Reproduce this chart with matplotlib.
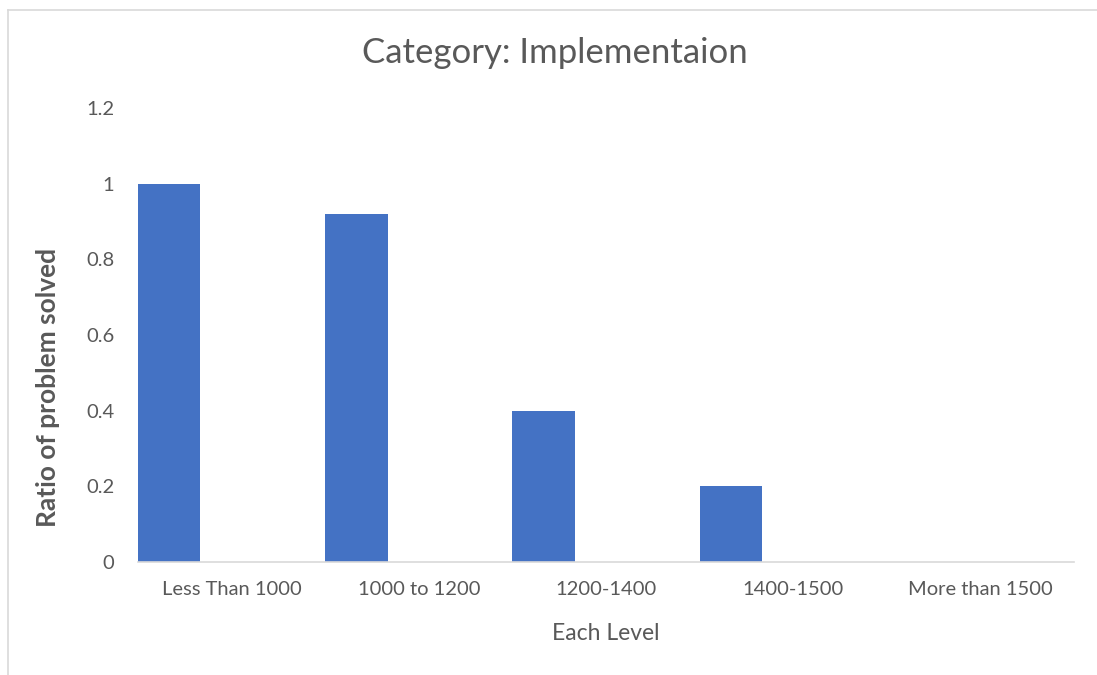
import matplotlib.pyplot as plt
from matplotlib.lines import Line2D

levels = ['Less Than 1000', '1000 to 1200', '1200-1400', '1400-1500', 'More than 1500']
ratio_solved = [1.0, 0.92, 0.4, 0.2, 0.0]
y_ticks = [0, 0.2, 0.4, 0.6, 0.8, 1, 1.2]
y_tick_labels = ['0', '0.2', '0.4', '0.6', '0.8', '1', '1.2']

text_color = '#595959'
bar_color = '#4472c4'

plt.rcParams['font.family'] = ['Lato', 'DejaVu Sans']

fig = plt.figure(figsize=(10.97, 6.75), dpi=100)
ax = fig.add_axes([0.1258, 0.1674, 0.8532, 0.6726])

# three bars per slot, only the first series has values
positions = [i - 0.5 for i in range(len(levels))]
ax.bar(positions, ratio_solved, width=1 / 3, align='edge', color=bar_color)

ax.set_xlim(-0.5, len(levels) - 0.5)
ax.set_ylim(0, 1.2)
ax.set_xticks(range(len(levels)))
ax.set_xticklabels(levels)
ax.set_yticks(y_ticks)
ax.set_yticklabels(y_tick_labels)
ax.tick_params(axis='both', length=0, labelsize=14.5, colors=text_color)
ax.tick_params(axis='y', pad=17)
ax.tick_params(axis='x', pad=14)

for side in ['top', 'right', 'left']:
    ax.spines[side].set_visible(False)
ax.spines['bottom'].set_color('#d9d9d9')
ax.spines['bottom'].set_linewidth(1.2)

ax.set_xlabel('Each Level', fontsize=16.5, color=text_color, labelpad=18)
ax.set_ylabel('Ratio of problem solved', fontsize=19, fontweight='bold',
              color=text_color)
ax.yaxis.set_label_coords(-0.083, 0.385)
fig.text(0.506, 0.922, 'Category: Implementaion', fontsize=25, color=text_color,
         ha='center', va='center')

# chart area border
fig.add_artist(Line2D([0.0073, 0.0073], [0.0, 0.985], color='#d9d9d9', lw=1.2))
fig.add_artist(Line2D([0.0073, 1.0], [0.985, 0.985], color='#d9d9d9', lw=1.2))

fig.savefig('out.png', dpi=100)
